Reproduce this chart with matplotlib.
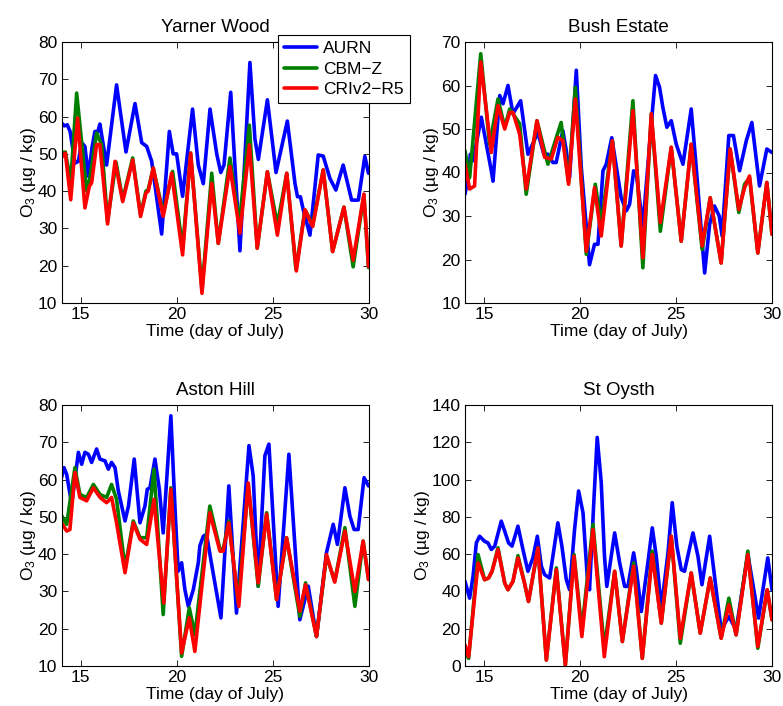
import matplotlib
matplotlib.use("Agg")
import matplotlib.pyplot as plt

plt.rcParams['font.family'] = ['Liberation Sans', 'DejaVu Sans']
plt.rcParams['mathtext.default'] = 'regular'

# ---------------- data ----------------
site_titles = ["Yarner Wood", "Bush Estate", "Aston Hill", "St Oysth"]
series_names = ["AURN", "CBM\u2212Z", "CRIv2\u2212R5"]

# Yarner Wood
yw_aurn_t = [14.0, 14.15, 14.3, 14.45, 14.7, 14.88, 15.05, 15.22, 15.4, 15.6,
             15.74, 15.9, 16.0, 16.35, 16.87, 17.36, 17.83, 18.18, 18.44, 18.7,
             19.22, 19.62, 19.82, 20.0, 20.31, 20.83, 21.13, 21.39, 21.74, 22.09,
             22.3, 22.47, 22.82, 22.96, 23.3, 23.82, 24.08, 24.26, 24.73, 25.18,
             25.77, 26.17, 26.3, 26.45, 26.6, 26.95, 27.38, 27.64, 27.99, 28.3,
             28.68, 29.12, 29.47, 29.81, 30.0]
yw_aurn_v = [58.3, 57.5, 57.8, 56, 47.5, 48, 53, 52, 44, 52,
             56, 56, 58, 47, 68.5, 50.5, 63.5, 53, 52, 48,
             28.5, 56, 50, 50, 38.6, 62, 47, 42, 62, 50,
             45, 47, 66.5, 53.7, 24, 74.5, 54, 48.5, 64.5, 45,
             58.8, 42, 38.5, 38.5, 35, 28.2, 49.7, 49.4, 43.4, 40.3,
             47, 37.6, 37.6, 49.3, 44.8]
yw_cbmz_t = [14.0, 14.2, 14.48, 14.79, 15.31, 15.48, 15.83, 16.09, 16.4, 16.84,
             17.19, 17.71, 18.12, 18.4, 18.52, 18.78, 19.3, 19.79, 20.31, 20.73,
             21.32, 21.83, 22.17, 22.78, 23.2, 23.3, 23.79, 24.2, 24.73, 25.25,
             25.74, 26.22, 26.69, 27.09, 27.64, 28.13, 28.72, 29.2, 29.76, 30.0]
yw_cbmz_v = [50.2, 50.5, 42.6, 66.3, 40, 43.5, 55.6, 52.5, 31.9, 47.8,
             37.7, 48.9, 33.7, 40, 40.4, 46.2, 34.1, 45.3, 24.7, 50.2,
             13.5, 44.8, 26, 48.9, 33.6, 33, 57.7, 24.7, 45.2, 31,
             44.8, 18.9, 35, 31, 45.7, 23.8, 35.7, 19.7, 39, 19.5]
yw_cri_t = [14.0, 14.2, 14.48, 14.84, 15.22, 15.45, 15.57, 15.83, 16.0, 16.4,
            16.79, 17.19, 17.71, 18.12, 18.4, 18.52, 18.78, 19.3, 19.74, 20.31,
            20.73, 21.32, 21.83, 22.17, 22.78, 23.3, 23.79, 24.2, 24.73, 25.25,
            25.74, 26.24, 26.69, 27.09, 27.64, 28.13, 28.72, 29.2, 29.76, 30.0]
yw_cri_v = [49, 50.2, 37.7, 59.6, 35.5, 41.3, 42.2, 52.5, 52.5, 31.2,
            48, 37.2, 48.4, 33.2, 39.5, 40, 46.2, 33.2, 44.8, 22.9,
            50.2, 12.6, 42.1, 26, 46.6, 28.7, 52.4, 24.7, 45.2, 28.2,
            44.8, 18.6, 35, 30.5, 45.7, 23.8, 35.7, 21.5, 39.2, 19.8]

# Bush Estate
be_aurn_t = [14.0, 14.19, 14.28, 14.42, 14.85, 15.37, 15.46, 15.81, 15.98, 16.24,
             16.5, 16.9, 17.28, 17.45, 17.8, 18.11, 18.32, 18.58, 18.75, 19.1,
             19.28, 19.45, 19.8, 20.06, 20.49, 20.75, 20.93, 21.19, 21.36, 21.65,
             22.14, 22.41, 22.58, 22.79, 22.93, 23.27, 23.71, 23.93, 24.14, 24.31,
             24.52, 24.75, 25.01, 25.36, 25.79, 26.05, 26.49, 26.75, 27.0, 27.25,
             27.4, 27.75, 27.99, 28.31, 28.66, 28.95, 29.35, 29.73, 30.0]
be_aurn_v = [35, 39.6, 44.2, 42.7, 52.7, 40.4, 38, 57.7, 55.8, 60,
             53.5, 56.5, 44.2, 45.8, 49.2, 44.2, 44.2, 42.3, 42.3, 49.6,
             45, 38.8, 63.5, 41.2, 18.8, 23.5, 23.5, 40.4, 41.9, 48,
             34.2, 31.2, 32.7, 40.4, 39.6, 27.7, 51.2, 62.3, 59.6, 55,
             50.4, 51.9, 46.5, 41.9, 54.6, 41.2, 16.9, 28.1, 32.3, 30,
             25.4, 48.5, 48.5, 40.4, 47.3, 51.5, 36.9, 45.4, 44.6]
be_cbmz_t = [14.0, 14.24, 14.82, 15.28, 15.72, 16.07, 16.33, 16.85, 17.19, 17.75,
             18.32, 19.01, 19.4, 19.75, 20.32, 20.79, 21.1, 21.68, 22.14, 22.75,
             23.27, 23.71, 24.18, 24.75, 25.27, 25.79, 26.36, 26.78, 27.35, 27.82,
             28.27, 28.57, 28.83, 29.26, 29.73, 30.0]
be_cbmz_v = [45, 38.8, 67.3, 46.5, 56.9, 50.4, 54.6, 51.2, 35, 51.9,
             41.9, 51.5, 37.7, 59.6, 21.2, 37.3, 28.1, 47.3, 23.1, 56.5,
             18.1, 53.5, 26.5, 45.8, 24.2, 46.5, 22.3, 34.2, 19.2, 45.4,
             30.8, 37.3, 38.8, 21.5, 37.7, 25.8]
be_cri_t = [14.0, 14.24, 14.5, 14.82, 15.37, 15.72, 16.07, 16.33, 16.5, 16.85,
            17.19, 17.75, 18.15, 18.5, 18.84, 19.1, 19.4, 19.75, 20.32, 20.75,
            21.1, 21.68, 22.14, 22.75, 23.27, 23.71, 24.18, 24.75, 25.27, 25.79,
            26.36, 26.78, 27.35, 27.82, 28.27, 28.57, 28.83, 29.26, 29.73, 30.0]
be_cri_v = [41.9, 36.2, 36.9, 65.4, 44.6, 55.4, 50, 53.8, 53.8, 48.8,
            36.2, 51.9, 43.5, 43.1, 48.1, 47.3, 37.3, 56.9, 21.9, 36.5,
            25.4, 47.3, 23.1, 54.2, 20.4, 53.5, 28.5, 45.8, 24.2, 46.5,
            23.1, 34.2, 19.2, 45.4, 31.5, 36.5, 39.2, 21.5, 37.7, 25.8]

# Aston Hill
ah_aurn_t = [14.0, 14.13, 14.27, 14.53, 14.88, 15.05, 15.22, 15.4, 15.57, 15.83,
             16.0, 16.27, 16.44, 16.61, 16.79, 16.96, 17.31, 17.49, 17.79, 18.09,
             18.35, 18.47, 18.61, 18.87, 19.1, 19.3, 19.7, 19.91, 20.08, 20.26,
             20.43, 20.61, 20.87, 21.13, 21.21, 21.39, 21.56, 21.8, 22.31, 22.72,
             23.12, 23.77, 23.99, 24.25, 24.6, 24.81, 25.29, 25.85, 26.42, 26.86,
             27.29, 27.81, 28.16, 28.38, 28.77, 29.03, 29.25, 29.46, 29.77, 30.0]
ah_aurn_v = [60.5, 63.2, 61.4, 53.4, 67.3, 64.1, 67.3, 66.8, 64.6, 68.2,
             65.5, 65, 62.8, 64.6, 63.2, 57, 48.9, 52.9, 65.5, 48.4,
             52.9, 57.4, 57.8, 65.5, 57.4, 45.7, 77.1, 52.9, 35.4, 37.7,
             30.5, 26, 30.5, 37.7, 42.2, 44.8, 45.3, 38, 22.9, 58.3,
             24.2, 69.1, 61, 31.4, 66.4, 69.5, 26, 66.8, 22.4, 31.4,
             17.9, 40.4, 48, 42.6, 57.8, 50.2, 46.6, 46.6, 60.5, 58.3]
ah_cbmz_t = [14.0, 14.27, 14.7, 14.96, 15.31, 15.66, 16.01, 16.35, 16.61, 16.87,
             17.31, 17.74, 18.09, 18.44, 18.82, 19.3, 19.7, 20.26, 20.66, 20.95,
             21.73, 22.26, 22.43, 22.72, 23.21, 23.73, 24.25, 24.69, 25.21, 25.73,
             26.42, 26.72, 27.29, 27.81, 28.24, 28.77, 29.29, 29.72, 30.0]
ah_cbmz_v = [50.4, 48, 63.2, 56, 55.2, 58.7, 56, 55.2, 58.7, 54.7,
             36.3, 48.9, 44.4, 44.4, 62.8, 23.8, 57.8, 12.6, 25.6, 18.4,
             52.9, 41.3, 41.4, 48.9, 26.9, 58.7, 31.4, 51.1, 27.8, 44.4,
             23.3, 32.3, 17.9, 39.5, 32.7, 47.1, 26, 43.5, 33.2]
ah_cri_t = [14.0, 14.27, 14.44, 14.7, 14.96, 15.31, 15.66, 16.01, 16.35, 16.61,
            16.87, 17.31, 17.74, 18.09, 18.44, 18.82, 19.33, 19.7, 20.26, 20.66,
            20.95, 21.73, 22.26, 22.43, 22.72, 23.24, 23.73, 24.25, 24.69, 25.21,
            25.73, 26.42, 26.72, 27.29, 27.81, 28.24, 28.77, 29.29, 29.72, 30.0]
ah_cri_v = [48.4, 46.2, 46.6, 61.9, 55.2, 54.3, 57.8, 55.2, 53.8, 55.2,
            48.4, 35, 48.4, 44, 42.6, 54.7, 26.9, 57.4, 13.5, 22.9,
            13.9, 51.1, 40.8, 40.8, 48.4, 26, 59.1, 32.3, 50.7, 27.8,
            44.4, 24.7, 31.8, 17.9, 39.9, 32.5, 46.2, 30, 43.5, 33.2]

# St Oysth
so_aurn_t = [14.0, 14.24, 14.42, 14.59, 14.76, 15.02, 15.2, 15.37, 15.55, 15.89,
             16.07, 16.27, 16.45, 16.76, 17.02, 17.28, 17.54, 17.77, 17.98, 18.15,
             18.41, 18.84, 19.05, 19.28, 19.45, 19.71, 19.92, 20.15, 20.37, 20.49,
             20.72, 20.89, 21.1, 21.27, 21.39, 21.8, 22.06, 22.32, 22.49, 22.79,
             22.93, 23.19, 23.53, 23.76, 23.97, 24.23, 24.58, 24.8, 25.04, 25.27,
             25.44, 25.88, 26.14, 26.35, 26.75, 27.09, 27.35, 27.75, 28.13, 28.74,
             29.3, 29.78, 30.0]
so_aurn_v = [45.4, 36.4, 48.1, 66, 69.6, 66.9, 66, 62.5, 64.3, 77.7,
             72.3, 66, 64.3, 75, 62.5, 50.8, 58, 69.6, 53.5, 49,
             47.2, 76.8, 64.3, 46.3, 40.9, 73.2, 93.9, 82.2, 48.1, 40.9,
             89.4, 122.6, 98.4, 58.9, 42.7, 71.4, 55.3, 42.7, 42.7, 60.7,
             51.7, 29.2, 55.3, 74.1, 58.9, 31, 60.7, 87.6, 64.3, 51.7,
             50.8, 71.4, 58.9, 43.6, 69.6, 40.9, 19.4, 26.6, 19.4, 60,
             25.7, 58, 40.9]
so_mod_t = [14.0, 14.19, 14.68, 15.02, 15.23, 15.41, 15.72, 16.07, 16.24, 16.5,
            16.76, 17.1, 17.31, 17.8, 18.24, 18.76, 19.23, 19.68, 20.09, 20.67,
            21.26, 21.8, 22.2, 22.79, 23.24, 23.76, 24.23, 24.75, 25.22, 25.79,
            26.26, 26.78, 27.35, 27.75, 28.13, 28.74, 29.26, 29.75, 30.0]
so_cbmz_v = [7, 4.1, 59.8, 46.3, 47.2, 50.8, 63.4, 44.5, 40.9, 45.4,
             59.2, 44.5, 34.6, 63.4, 3.2, 52.6, 0.5, 59.8, 19.4, 75.9,
             9.5, 50.8, 13.1, 55.3, 4.1, 61.6, 23, 69.6, 12.2, 49.9,
             17.6, 47.2, 14.9, 36.4, 16.7, 61.6, 9.5, 40.9, 24.8]
so_cri_v = [11.3, 5, 55.3, 46.3, 47.2, 50.8, 62.5, 44.5, 40.9, 45.4,
            58, 44.5, 34.6, 63.4, 3.2, 51.7, 0.5, 58.9, 15.8, 73.2,
            5, 50.8, 13.1, 53.5, 4.1, 59.8, 23, 69.6, 14.9, 49.9,
            17.6, 47.2, 14.9, 32.8, 16.7, 59.8, 10.4, 40.9, 24.8]

x_ticks = [15, 20, 25, 30]
y_ticks = [[10, 20, 30, 40, 50, 60, 70, 80],
           [10, 20, 30, 40, 50, 60, 70],
           [10, 20, 30, 40, 50, 60, 70, 80],
           [0, 20, 40, 60, 80, 100, 120, 140]]

panels = [
    [(yw_aurn_t, yw_aurn_v), (yw_cbmz_t, yw_cbmz_v), (yw_cri_t, yw_cri_v)],
    [(be_aurn_t, be_aurn_v), (be_cbmz_t, be_cbmz_v), (be_cri_t, be_cri_v)],
    [(ah_aurn_t, ah_aurn_v), (ah_cbmz_t, ah_cbmz_v), (ah_cri_t, ah_cri_v)],
    [(so_aurn_t, so_aurn_v), (so_mod_t, so_cbmz_v), (so_mod_t, so_cri_v)],
]

# ---------------- style ----------------
colors = ['#0000ff', '#008000', '#ff0000']
W, H = 783, 706
fig = plt.figure(figsize=(W / 100, H / 100), dpi=100)

boxes_px = [(61.5, 42, 368.5, 303), (465, 42, 772, 303),
            (61.5, 405, 368.5, 666), (465, 405, 772, 666)]

axes = []
for i, (x0, y0, x1, y1) in enumerate(boxes_px):
    ax = fig.add_axes([x0 / W, 1 - y1 / H, (x1 - x0) / W, (y1 - y0) / H])
    for (t, v), c, name in zip(panels[i], colors, series_names):
        ax.plot(t, v, color=c, lw=2.6, label=name,
                solid_joinstyle='round', solid_capstyle='round')
    ax.set_xlim(14, 30)
    ax.set_ylim(y_ticks[i][0], y_ticks[i][-1])
    ax.set_xticks(x_ticks)
    ax.set_yticks(y_ticks[i])
    ax.tick_params(direction='in', top=True, right=True, length=4, width=0.6,
                   labelsize=12.5, pad=3)
    for s in ax.spines.values():
        s.set_linewidth(0.8)
    ax.set_title(site_titles[i], fontsize=13.5, pad=7)
    ax.set_xlabel('Time (day of July)', fontsize=12.5, labelpad=1)
    ax.set_ylabel('O$_3$ (\u00b5g / kg)', fontsize=12.5, labelpad=0)
    axes.append(ax)

leg = axes[0].legend(loc='upper left', bbox_to_anchor=(277.7 / W, 1 - 35 / H),
                     bbox_transform=fig.transFigure, fancybox=False,
                     edgecolor='black', framealpha=1, fontsize=12.5,
                     handlelength=1.9, handletextpad=0.35, labelspacing=0.3,
                     borderpad=0.35, borderaxespad=0)
leg.get_frame().set_linewidth(0.8)

fig.savefig('out.png', dpi=100)
